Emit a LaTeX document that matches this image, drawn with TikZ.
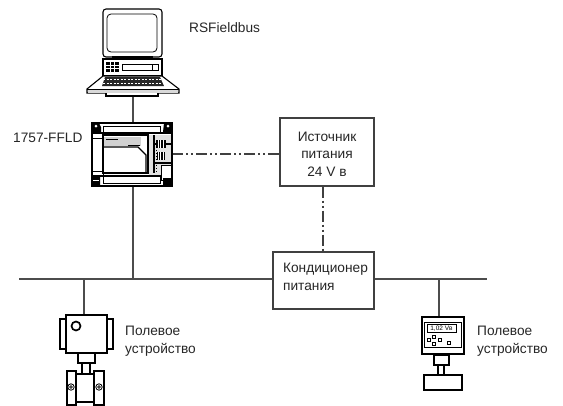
\documentclass[tikz,border=0pt]{standalone}
\usepackage{fontspec}
\setmainfont{Liberation Sans}
\tikzset{
  txt/.style={inner sep=0pt,font=\fontsize{13.7}{17.7}\selectfont,text=black!85},
  boxnode/.style={draw=black!75,line width=1.3pt,fill=white,inner sep=0pt},
  anchorbox/.style={inner sep=0pt,minimum width=0pt,minimum height=0pt},
  wire/.style={draw=black!70,line width=1.4pt},
  dashwire/.style={draw=black!75,line width=1.2pt,dash pattern=on 11pt off 3pt on 2pt off 3pt on 2pt off 3pt},
  thick1/.style={draw=black,line width=1.1pt,fill=white},
  thin1/.style={draw=black,line width=.7pt,fill=white}
}
\begin{document}
\begin{tikzpicture}[x=1pt,y=-1pt]
\useasboundingbox (0,0) rectangle (563,405);
% named anchors
\node[anchorbox] (pcbase) at (133,96) {};
\node[anchorbox] (plctop) at (133,123) {};
\node[anchorbox] (plcbot) at (133,186) {};
\node[anchorbox] (plcright) at (172,154) {};
\node[anchorbox] (busL) at (19,279) {};
\node[anchorbox] (busR) at (487,279) {};
\node[anchorbox] (busA) at (133,279) {};
\node[anchorbox] (busB) at (84,279) {};
\node[anchorbox] (busC) at (439,279) {};
\node[anchorbox] (devA) at (84,315) {};
\node[anchorbox] (devB) at (439,317) {};
% boxes
\node[boxnode,minimum width=94pt,minimum height=68pt,
  label={[name=psutxt,txt,align=center,yshift=-2pt]center:Источник\\питания\\24 V в}] (psu) at (327,152) {};
\node[boxnode,minimum width=101pt,minimum height=57pt,
  label={[name=condtxt,txt,align=left,yshift=3.5pt,xshift=2pt]center:Кондиционер\\питания}] (cond) at (323.5,280.5) {};
% connectors
\draw[wire] (busL.center) -- (cond.west |- busL.center);
\draw[wire] (cond.east |- busR.center) -- (busR.center);
\draw[wire] (pcbase.center) -- (plctop.center);
\draw[wire] (plcbot.center) -- (busA.center);
\draw[wire] (busB.center) -- (devA.center);
\draw[wire] (busC.center) -- (devB.center);
\draw[dashwire] (plcright.center) -- (psu.west |- plcright.center);
\draw[dashwire] (psu.south -| 323,0) -- (cond.north -| 323,0);
% computer
\draw[thick1,rounded corners=3pt] (103,9) rectangle (162,57);
\draw[draw=black,line width=.8pt,rounded corners=4pt] (107,14) rectangle (157,52);
\draw[thick1] (113,57) rectangle (152,59);
\draw[thick1] (103,59) rectangle (162,76);
\fill[black] (106,62) rectangle (119,72);
\foreach \gx in {110,114.5} \draw[white,line width=.5pt] (\gx,62) -- (\gx,72);
\foreach \gy in {65.3,68.6} \draw[white,line width=.5pt] (106,\gy) -- (119,\gy);
\draw[thin1] (122,64) rectangle (158,70);
\draw[thin1,fill=white] (152,64.5) rectangle (158,70);
\draw[thick1] (103,76) -- (162,76) -- (179,89) -- (179,93) -- (87,93) -- (87,89) -- cycle;
\draw[draw=black,line width=.7pt] (87,89) -- (179,89);
\fill[black!15] (88,90) rectangle (178,92.5);
\fill[black!85] (105,77) -- (160,77) -- (164,86) -- (102,86) -- cycle;
\foreach \ky in {79.5,83} \draw[white,line width=.6pt,dash pattern=on 2pt off 1.5pt] (103,\ky) -- (163,\ky);
\draw[thick1] (106,93) -- (106,96) -- (158,96) -- (158,93);
% PLC
\draw[thick1] (92,123) rectangle (172,186);
\draw[thin1,line width=1pt] (103,126) rectangle (160,133);
\draw[thin1,line width=1pt] (103,176) rectangle (160,183);
\draw[thick1] (92,133) rectangle (172,176);
\draw[black,line width=1pt] (103,126) -- (103,183);
\draw[black,line width=1pt] (92,138) -- (103,138) (92,171) -- (103,171);
\draw[black,line width=1.4pt,fill=white] (103,135) rectangle (148,173);
\fill[black!18] (104,137) -- (141,137) -- (141,146) -- (104,146) -- cycle;
\draw[black,line width=1.3pt] (104,147) -- (138,147) -- (146,155) -- (146,173);
\draw[black,line width=.5pt] (106,139.5) -- (118,139.5) (128,145) -- (140,145);
\fill[black!12] (149,135) rectangle (171,175);
\draw[black,line width=1.2pt] (154,135) -- (154,173) (154,144) -- (171,144) (154,163) -- (171,163);
\fill[black] (156,140) rectangle (166,148);
\fill[black] (157,152) rectangle (165,160);
\foreach \px in {158,160.5,163} \draw[white,line width=.4pt] (\px,140) -- (\px,148) (\px,152) -- (\px,160);
\draw[black,line width=1pt,dotted] (156.5,150) -- (156.5,172);
\draw[black,line width=1pt,fill=white] (161,165) rectangle (171,180);
\fill[black] (92,123) -- (96,122) -- (99,123) -- (101,127) -- (101,132) -- (92,132) -- cycle;
\fill[black] (164,123) -- (168,122) -- (171,123) -- (172,127) -- (172,132) -- (163,132) -- cycle;
\fill[white] (96,126) circle (1.5pt) (168,126) circle (1.5pt);
\fill[black] (92,176) rectangle (100,186) (163,178) rectangle (172,186);
\draw[white,line width=.6pt] (93,180) -- (99,180);
% left field device
\draw[thick1] (60,319) rectangle (66,349);
\draw[thick1] (107,319) rectangle (113,349);
\draw[thick1] (66,315) rectangle (107,353);
\draw[black,line width=1.7pt] (76,326) circle (4.5pt);
\draw[thick1] (78,353) rectangle (95,363);
\draw[thick1] (82,363) rectangle (90,374);
\draw[thick1] (67,371) rectangle (76,405);
\draw[thick1] (94,371) rectangle (104,405);
\draw[thick1] (76,374) rectangle (94,402);
\foreach \cx in {71,99} {\draw[black,line width=.8pt,fill=white] (\cx,387) circle (3.2pt); \draw[black,line width=.6pt] (\cx,387) circle (1.4pt);}
% right field device
\draw[thick1] (422,317) rectangle (464,354);
\draw[black,line width=1pt] (424,322) rectangle (461,347);
\draw[black,line width=.9pt] (427,324) rectangle (456,332);
\node[anchorbox,font=\fontsize{6.5}{6.5}\selectfont] (dsp) at (441.5,328.3) {1,02 Vв};
\foreach \bx/\by in {428.5/340,434/337,434/343.5,440/340,449/342.5}
  \draw[black,line width=.7pt,fill=white] (\bx-1.5,\by-1.5) rectangle (\bx+1.5,\by+1.5);
\draw[thick1] (434,355) rectangle (449,365);
\draw[thick1] (438,365) rectangle (444,375);
\draw[thick1] (424,375) rectangle (462,390);
% labels
\node[txt,anchor=west] (l1) at (189,28) {RSFieldbus};
\node[txt,anchor=west] (l2) at (13,138) {1757-FFLD};
\node[txt,anchor=west,align=left] (l3) at (125,341) {Полевое\\устройство};
\node[txt,anchor=west,align=left] (l4) at (477,341) {Полевое\\устройство};
\end{tikzpicture}
\end{document}
